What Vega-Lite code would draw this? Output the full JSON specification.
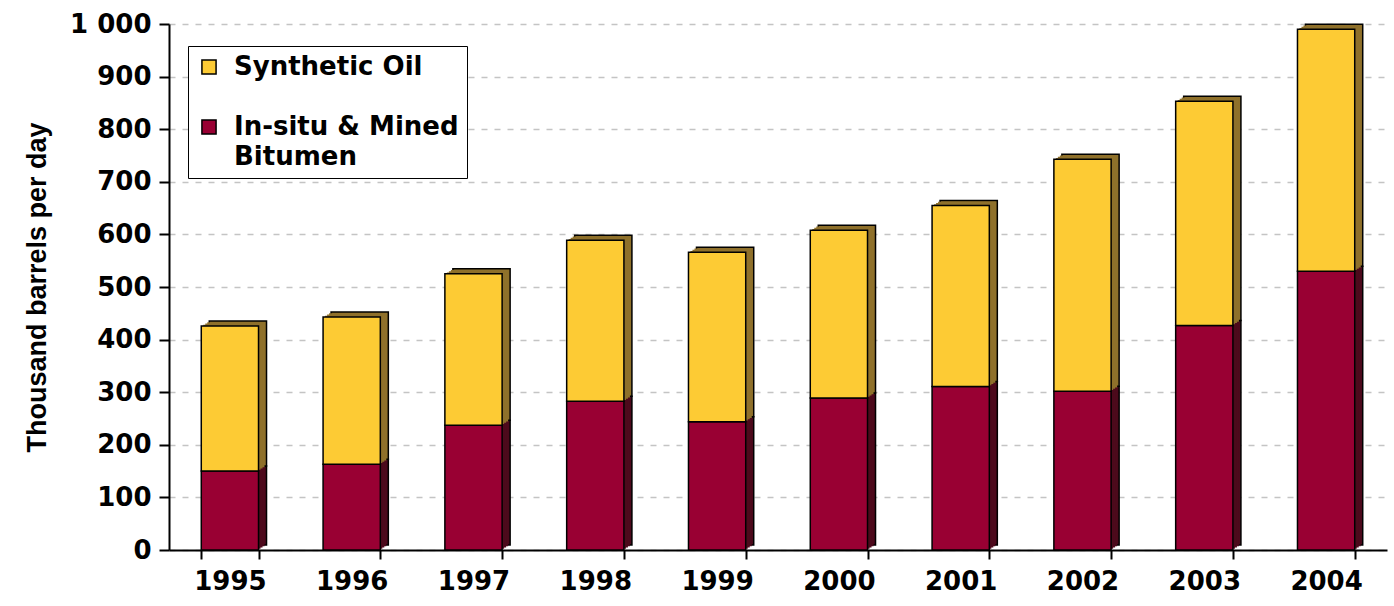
{
  "$schema": "https://vega.github.io/schema/vega-lite/v6.json",
  "autosize": {"type": "none"},
  "padding": {"left": 169, "top": 24, "right": 7, "bottom": 56},
  "width": 1218,
  "height": 526,
  "background": "white",
  "data": {
    "values": [
      {"year": "1995", "series": "In-situ & Mined Bitumen", "value": 150},
      {"year": "1995", "series": "Synthetic Oil", "value": 276},
      {"year": "1996", "series": "In-situ & Mined Bitumen", "value": 163},
      {"year": "1996", "series": "Synthetic Oil", "value": 280},
      {"year": "1997", "series": "In-situ & Mined Bitumen", "value": 237},
      {"year": "1997", "series": "Synthetic Oil", "value": 288},
      {"year": "1998", "series": "In-situ & Mined Bitumen", "value": 283},
      {"year": "1998", "series": "Synthetic Oil", "value": 306},
      {"year": "1999", "series": "In-situ & Mined Bitumen", "value": 244},
      {"year": "1999", "series": "Synthetic Oil", "value": 322},
      {"year": "2000", "series": "In-situ & Mined Bitumen", "value": 289},
      {"year": "2000", "series": "Synthetic Oil", "value": 319},
      {"year": "2001", "series": "In-situ & Mined Bitumen", "value": 311},
      {"year": "2001", "series": "Synthetic Oil", "value": 344},
      {"year": "2002", "series": "In-situ & Mined Bitumen", "value": 302},
      {"year": "2002", "series": "Synthetic Oil", "value": 441},
      {"year": "2003", "series": "In-situ & Mined Bitumen", "value": 427},
      {"year": "2003", "series": "Synthetic Oil", "value": 426},
      {"year": "2004", "series": "In-situ & Mined Bitumen", "value": 530},
      {"year": "2004", "series": "Synthetic Oil", "value": 460}
    ]
  },
  "encoding": {
    "x": {
      "field": "year",
      "type": "ordinal",
      "scale": {"paddingInner": 0.53, "paddingOuter": 0.265},
      "axis": {
        "title": null,
        "labelAngle": 0,
        "labelFont": "DejaVu Sans",
        "labelFontWeight": "bold",
        "labelFontSize": 26,
        "labelColor": "black",
        "labelPadding": 9,
        "tickBand": "extent",
        "tickSize": 9,
        "tickWidth": 2,
        "tickColor": "black",
        "domainColor": "black",
        "domainWidth": 2,
        "grid": false
      }
    },
    "y": {
      "field": "value",
      "type": "quantitative",
      "stack": "zero",
      "scale": {"domain": [0, 1000], "nice": false},
      "axis": {
        "title": "Thousand barrels per day",
        "titleFont": "Liberation Sans",
        "titleFontWeight": "bold",
        "titleFontSize": 27,
        "titleColor": "black",
        "titlePadding": 18,
        "values": [0, 100, 200, 300, 400, 500, 600, 700, 800, 900, 1000],
        "labelExpr": "datum.value == 1000 ? '1 000' : datum.label",
        "labelFont": "DejaVu Sans",
        "labelFontWeight": "bold",
        "labelFontSize": 26,
        "labelColor": "black",
        "labelPadding": 8,
        "tickSize": 10,
        "tickWidth": 2,
        "tickColor": "black",
        "domainColor": "black",
        "domainWidth": 2,
        "grid": true,
        "gridColor": "#c4c4c4",
        "gridDash": [6, 7],
        "gridWidth": 1.5
      }
    },
    "order": {"field": "series", "sort": "ascending"}
  },
  "layer": [
    {
      "mark": {"type": "bar", "xOffset": 8, "x2Offset": 8, "yOffset": -5, "y2Offset": -5, "stroke": "black", "strokeWidth": 1.5},
      "encoding": {
        "fill": {
          "field": "series",
          "type": "nominal",
          "scale": {"domain": ["In-situ & Mined Bitumen", "Synthetic Oil"], "range": ["#4d0a1c", "#8f712b"]},
          "legend": null
        }
      }
    },
    {
      "mark": {"type": "bar", "xOffset": 6, "x2Offset": 6, "yOffset": -3.75, "y2Offset": -3.75},
      "encoding": {
        "fill": {"field": "series", "type": "nominal", "legend": null}
      }
    },
    {
      "mark": {"type": "bar", "xOffset": 4, "x2Offset": 4, "yOffset": -2.5, "y2Offset": -2.5},
      "encoding": {
        "fill": {"field": "series", "type": "nominal", "legend": null}
      }
    },
    {
      "mark": {"type": "bar", "xOffset": 2, "x2Offset": 2, "yOffset": -1.25, "y2Offset": -1.25},
      "encoding": {
        "fill": {"field": "series", "type": "nominal", "legend": null}
      }
    },
    {
      "mark": {"type": "bar", "stroke": "black", "strokeWidth": 1.5},
      "encoding": {
        "color": {
          "field": "series",
          "type": "nominal",
          "scale": {"domain": ["Synthetic Oil", "In-situ & Mined Bitumen"], "range": ["#fdcb34", "#990033"]},
          "legend": {
            "title": null,
            "orient": "none",
            "legendX": 19,
            "legendY": 22,
            "strokeColor": "black",
            "fillColor": "white",
            "padding": 8,
            "rowPadding": 34,
            "symbolType": "square",
            "symbolSize": 200,
            "symbolStrokeColor": "black",
            "symbolStrokeWidth": 1.5,
            "labelFont": "DejaVu Sans",
            "labelFontWeight": "bold",
            "labelFontSize": 26,
            "labelColor": "black",
            "labelOffset": 12,
            "labelLimit": 400,
            "labelExpr": "replace(datum.label, ' Bitumen', '|Bitumen')"
          }
        }
      }
    }
  ],
  "config": {
    "view": {"stroke": null},
    "style": {"guide-label": {"lineBreak": "|", "lineHeight": 30}}
  }
}
